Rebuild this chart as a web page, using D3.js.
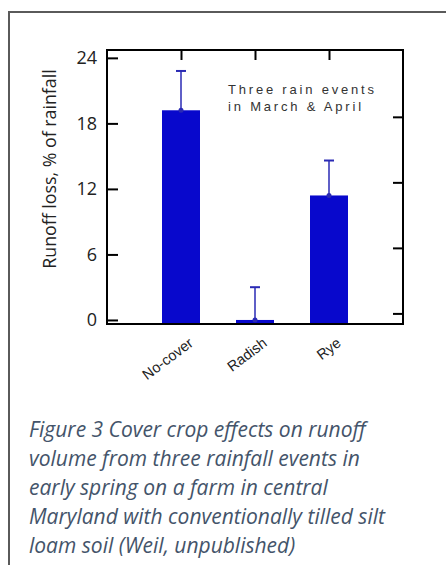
<!DOCTYPE html>
<html>
<head>
<meta charset="utf-8">
<script src="https://cdn.jsdelivr.net/npm/d3@7"></script>
<style>
  html, body { margin: 0; padding: 0; background: #fff; }
  svg { display: block; }
</style>
</head>
<body>
<svg id="chart" width="446" height="565"></svg>
<script>
// ---- data ----
const categories = ["No-cover", "Radish", "Rye"];
const meanValues = [19.2, 0.0, 11.4];
const errorUpper = [22.8, 3.0, 14.6];
const yTickValues = [0, 6, 12, 18, 24];
const rightTickValues = [0.6, 6.6, 12.6, 18.6];
const yTitle = "Runoff loss, % of rainfall";
const noteLines = ["Three rain events", "in March & April"];
const captionLines = [
  "Figure 3 Cover crop effects on runoff",
  "volume from three rainfall events in",
  "early spring on a farm in central",
  "Maryland with conventionally tilled silt",
  "loam soil (Weil, unpublished)"
];

const svg = d3.select("#chart");

// outer frame (extends past the right/bottom edge)
svg.append("path")
  .attr("d", "M9,600 L9,12 L460,12")
  .attr("fill", "none").attr("stroke", "#5a5a5a").attr("stroke-width", 2);

const L = 107, R = 403, T = 50, B = 324;
const y = d3.scaleLinear().domain([-0.37, 24.72]).range([B, T]);
const x = d3.scalePoint().domain(categories).range([L, R]).padding(1);
const barW = 38;

const g = svg.append("g");

// bars
g.selectAll("rect.bar").data(categories).join("rect")
  .attr("class", "bar")
  .attr("x", d => x(d) - barW / 2)
  .attr("width", barW)
  .attr("y", (d, i) => Math.min(y(meanValues[i]), B - 2))
  .attr("height", (d, i) => B - Math.min(y(meanValues[i]), B - 2))
  .attr("fill", "#0808cc");

// error bars
const errColor = "#2a2ab4";
g.selectAll("line.err").data(categories).join("line")
  .attr("x1", d => x(d)).attr("x2", d => x(d))
  .attr("y1", (d, i) => y(meanValues[i]))
  .attr("y2", (d, i) => y(errorUpper[i]))
  .attr("stroke", errColor).attr("stroke-width", 1.5);
g.selectAll("line.cap").data(categories).join("line")
  .attr("x1", d => x(d) - 5).attr("x2", d => x(d) + 5)
  .attr("y1", (d, i) => y(errorUpper[i]))
  .attr("y2", (d, i) => y(errorUpper[i]))
  .attr("stroke", errColor).attr("stroke-width", 2);
g.selectAll("circle.pt").data(categories).join("circle")
  .attr("cx", d => x(d)).attr("cy", (d, i) => y(meanValues[i]))
  .attr("r", 2.5).attr("fill", errColor);

// frame of plot
g.append("rect").attr("x", L).attr("y", T).attr("width", R - L).attr("height", B - T)
  .attr("fill", "none").attr("stroke", "#000").attr("stroke-width", 2);

// left axis (inward ticks)
const leftAxis = d3.axisRight(y).tickValues(yTickValues).tickSize(11).tickFormat("");
const la = g.append("g").attr("transform", `translate(${L},0)`).call(leftAxis);
la.select(".domain").remove();
la.selectAll(".tick line").attr("stroke", "#000").attr("stroke-width", 2);

// left tick labels
g.selectAll("text.ylab").data(yTickValues).join("text")
  .attr("x", L - 10).attr("y", d => y(d))
  .attr("dy", "0.35em")
  .attr("text-anchor", "end")
  .attr("font-family", "'Open Sans', sans-serif")
  .attr("font-size", 18)
  .attr("fill", "#222")
  .text(d => d);

// right axis (inward ticks)
const rightAxis = d3.axisLeft(y).tickValues(rightTickValues).tickSize(10).tickFormat("");
const ra = g.append("g").attr("transform", `translate(${R},0)`).call(rightAxis);
ra.select(".domain").remove();
ra.selectAll(".tick line").attr("stroke", "#000").attr("stroke-width", 2);

// top axis (inward ticks at categories)
const topAxis = d3.axisBottom(x).tickSize(10).tickFormat("");
const ta = g.append("g").attr("transform", `translate(0,${T})`).call(topAxis);
ta.select(".domain").remove();
ta.selectAll(".tick line").attr("stroke", "#000").attr("stroke-width", 2);

// x category labels
g.selectAll("text.xlab").data(categories).join("text")
  .attr("transform", d => `translate(${x(d) + 13},${B + 21}) rotate(-37)`)
  .attr("text-anchor", "end")
  .attr("font-family", "'Liberation Sans', Arial, sans-serif")
  .attr("font-size", 14.5)
  .attr("fill", "#222")
  .text(d => d);

// y title
g.append("text")
  .attr("transform", `translate(56,${(68 + 270) / 2}) rotate(-90)`)
  .attr("text-anchor", "middle")
  .attr("font-family", "'Open Sans', sans-serif")
  .attr("font-size", 17.8)
  .attr("fill", "#222")
  .text(yTitle);

// note
g.selectAll("text.note").data(noteLines).join("text")
  .attr("x", 228).attr("y", (d, i) => 94 + i * 17)
  .attr("font-family", "'Liberation Sans', Arial, sans-serif")
  .attr("font-size", 13)
  .attr("letter-spacing", "2.8px")
  .attr("fill", "#333")
  .text(d => d);

// caption
svg.selectAll("text.cap").data(captionLines).join("text")
  .attr("x", 29).attr("y", (d, i) => 437 + i * 29)
  .attr("font-family", "'Open Sans', sans-serif")
  .attr("font-style", "italic")
  .attr("font-size", 21)
  .attr("fill", "#44546a")
  .text(d => d);
</script>
</body>
</html>
